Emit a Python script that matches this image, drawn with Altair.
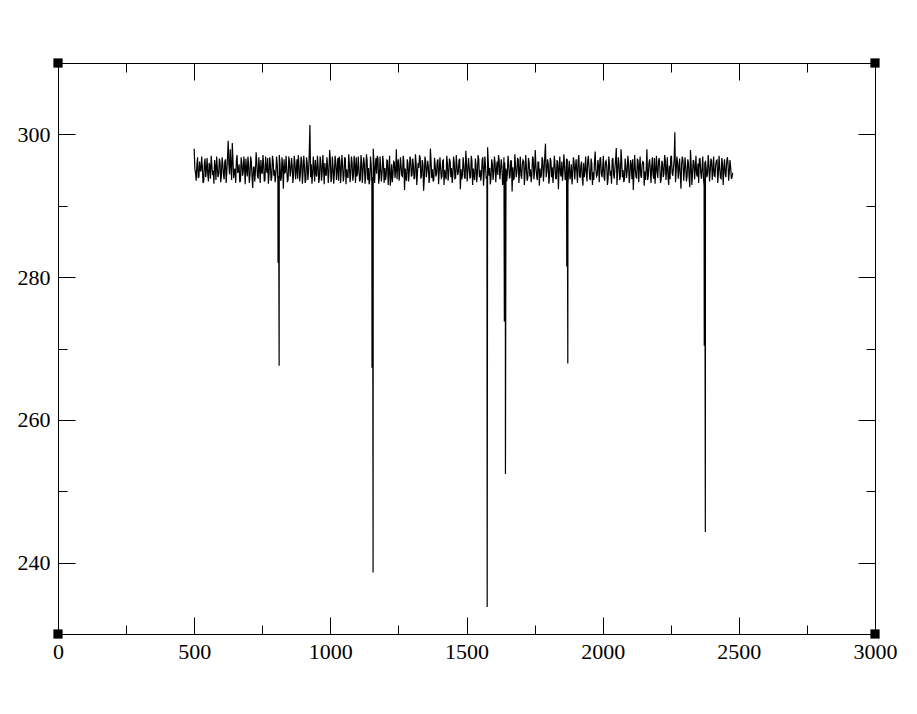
import altair as alt
import pandas as pd

# ---- data ----
# samples at x = 500, 505, 510, ...
x_start = 500
x_step = 5
band_y = [
    298.0, 294.6, 295.8, 293.9, 296.2, 294.8, 295.5, 293.4, 296.6, 295.1, 294.3, 296.0, 293.8, 295.7, 294.9, 296.4, 293.6, 295.3, 294.5, 296.1,
    294.2, 295.9, 293.7, 296.5, 294.8, 299.1, 294.4, 295.6, 298.8, 293.9, 295.2, 296.3, 294.6, 295.8, 293.5, 296.0, 294.7, 295.4, 296.6, 294.1,
    295.7, 294.3, 296.2, 292.5, 295.5, 294.8, 296.1, 293.8, 295.3, 296.4, 294.5, 295.9, 293.6, 295.2, 296.7, 294.4, 295.6, 294.0, 296.3, 295.0,
    294.6, 295.8, 294.2, 296.0, 293.9, 295.4, 296.5, 294.7, 295.1, 293.7, 296.2, 294.9, 295.6, 294.3, 296.1, 295.0, 293.8, 295.7, 294.5, 296.3,
    294.8, 295.5, 293.6, 296.0, 294.9, 301.3, 295.8, 294.4, 295.2, 296.4, 294.1, 295.7, 293.9, 296.2, 294.6, 295.3, 296.0, 294.2, 295.6, 294.8,
    296.5, 293.8, 295.4, 294.7, 296.1, 295.0, 293.5, 296.3, 294.9, 295.6, 294.2, 296.6, 295.1, 293.9, 295.8, 294.5, 296.0, 294.3, 295.5, 296.8,
    294.6, 295.2, 293.7, 296.2, 294.8, 295.9, 294.1, 296.4, 295.3, 293.6, 295.7, 294.0, 296.1, 295.4, 294.5, 296.6, 293.9, 295.1, 294.7, 296.0,
    295.3, 294.2, 296.3, 294.9, 292.8, 295.8, 294.4, 296.1, 295.0, 293.7, 296.5, 294.6, 295.5, 294.1, 296.2, 295.2, 293.5, 295.9, 294.8, 296.4,
    294.3, 295.6, 293.9, 296.0, 294.7, 295.3, 296.7, 294.2, 295.8, 293.8, 296.3, 294.9, 295.4, 294.0, 296.1, 295.1, 293.6, 295.7, 294.5, 296.5,
    294.8, 295.2, 294.1, 296.4, 295.0, 293.7, 295.9, 294.6, 296.2, 295.3, 294.3, 296.0, 293.9, 295.6, 294.7, 296.6, 295.1, 294.2, 295.8, 293.8,
    296.1, 294.9, 295.4, 294.0, 296.3, 295.2, 293.6, 295.7, 294.5, 296.5, 295.0, 294.4, 296.8, 294.8, 295.5, 294.1, 296.2, 295.3, 293.9, 295.8,
    294.6, 296.0, 295.1, 294.3, 296.4, 294.9, 295.6, 293.7, 296.1, 295.2, 294.5, 295.9, 294.0, 296.3, 295.4, 293.8, 295.7, 294.7, 296.5, 295.0,
    294.2, 295.8, 296.2, 294.6, 295.3, 293.9, 296.0, 295.1, 294.4, 296.6, 294.8, 295.5, 293.6, 296.1, 295.2, 294.3, 296.4, 295.0, 298.7, 294.7,
    295.9, 294.1, 296.3, 295.4, 294.6, 295.7, 293.8, 296.0, 295.2, 294.5, 296.2, 294.9, 295.6, 294.0, 296.5, 295.1, 293.7, 295.8, 294.4, 296.1,
    295.3, 294.8, 296.4, 294.2, 295.7, 293.9, 296.0, 295.0, 294.6, 296.3, 295.4, 293.6, 295.9, 294.7, 296.2, 295.1, 294.3, 295.6, 296.6, 294.5,
    295.2, 294.0, 296.1, 295.5, 293.8, 295.8, 294.9, 296.4, 294.4, 295.3, 298.1, 294.7, 295.9, 294.1, 296.2, 295.0, 293.7, 295.6, 294.8, 296.0,
    294.3, 295.7, 296.5, 294.6, 295.1, 293.9, 296.3, 295.4, 294.2, 295.8, 296.1, 294.8, 295.2, 293.6, 296.0, 294.9, 295.5, 294.4, 296.7, 295.0,
    294.7, 296.2, 295.3, 293.8, 295.9, 294.5, 296.4, 295.1, 294.0, 295.6, 296.8, 294.6, 295.4, 300.3, 294.9, 296.1, 295.2, 294.3, 295.8, 296.3,
    294.8, 295.5, 294.1, 296.0, 292.6, 295.7, 294.6, 296.2, 295.0, 294.4, 295.9, 296.5, 294.7, 295.3, 293.9, 296.1, 295.2, 294.5, 295.8, 294.9,
    296.3, 295.0, 294.2, 295.7, 296.4, 294.6, 295.3, 293.8, 296.0, 295.1, 294.5, 295.9, 296.2, 294.7, 295.4, 294.0,
]
# samples half-way between, at x = 502.5, 507.5, ...
band_y_mid = [
    295.2, 293.5, 296.8, 294.1, 295.0, 296.9, 293.2, 295.9, 294.0, 296.7, 293.4, 295.6, 297.0, 294.3, 293.1, 295.5, 296.9, 294.0, 296.6, 293.3,
    296.8, 294.4, 296.2, 293.2, 296.9, 295.7, 297.9, 293.6, 296.4, 295.0, 293.2, 297.1, 294.9, 293.3, 296.8, 294.2, 296.9, 293.0, 295.1, 296.9,
    293.2, 296.9, 294.0, 295.3, 293.4, 297.5, 294.1, 296.8, 293.2, 294.7, 297.1, 293.4, 296.9, 294.6, 293.1, 296.8, 293.5, 297.0, 294.2, 293.3,
    296.9, 293.4, 297.1, 293.5, 296.8, 292.4, 294.6, 297.0, 293.3, 296.9, 294.1, 296.7, 293.2, 297.0, 293.7, 296.5, 297.1, 293.4, 296.9, 293.1,
    297.0, 293.2, 296.8, 293.6, 297.2, 294.0, 293.1, 296.9, 293.4, 294.5, 297.0, 293.2, 296.9, 293.5, 297.1, 293.0, 294.4, 296.8, 293.2, 297.8,
    293.3, 296.9, 293.1, 297.0, 293.6, 296.7, 296.9, 293.2, 297.1, 293.4, 296.8, 293.0, 294.2, 297.2, 293.3, 296.9, 293.5, 297.0, 293.2, 294.1,
    296.9, 293.4, 297.1, 293.2, 296.8, 293.1, 297.2, 293.6, 293.0, 296.9, 293.3, 298.0, 293.2, 296.7, 297.0, 293.1, 296.9, 293.4, 297.0, 293.2,
    293.6, 296.4, 292.9, 297.0, 294.0, 293.3, 296.2, 293.9, 297.9, 296.1, 293.5, 296.8, 294.2, 297.0, 292.2, 293.9, 296.5, 293.4, 296.9, 294.1,
    296.6, 293.7, 297.2, 292.9, 296.0, 297.1, 293.8, 296.4, 292.1, 296.9, 294.0, 296.3, 293.2, 298.0, 293.9, 293.4, 296.7, 294.1, 296.2, 293.0,
    296.8, 293.9, 296.3, 292.9, 294.2, 297.0, 293.5, 296.6, 294.0, 293.2, 296.9, 293.8, 297.1, 294.3, 296.4, 292.3, 293.7, 296.8, 294.0, 297.7,
    293.4, 296.7, 293.9, 297.0, 292.9, 294.1, 296.6, 293.3, 297.1, 294.0, 293.5, 296.4, 292.8, 296.9, 293.8, 298.2, 294.2, 293.0, 296.5, 293.6,
    296.9, 293.3, 296.2, 297.1, 293.7, 296.5, 292.9, 296.8, 294.1, 293.4, 297.0, 293.9, 296.3, 292.0, 293.6, 297.2, 294.0, 296.6, 293.2, 296.9,
    293.8, 296.4, 292.9, 297.1, 293.5, 296.7, 294.1, 293.3, 296.9, 293.7, 297.8, 294.2, 296.1, 292.8, 293.9, 296.8, 293.4, 297.0, 294.0, 296.5,
    293.1, 296.7, 294.0, 293.2, 297.0, 293.8, 296.4, 292.3, 296.9, 294.1, 293.5, 297.2, 293.6, 296.6, 292.9, 296.3, 294.2, 293.0, 296.8, 293.7,
    296.5, 293.2, 297.1, 293.9, 296.2, 292.8, 294.0, 296.9, 293.4, 297.0, 293.8, 296.6, 292.9, 293.6, 297.6, 294.1, 296.4, 293.3, 296.8, 294.0,
    297.0, 293.5, 296.3, 292.9, 296.9, 294.2, 293.1, 296.7, 293.8, 296.5, 292.9, 296.8, 293.6, 297.9, 294.0, 293.3, 296.6, 293.9, 297.0, 293.2,
    296.4, 293.7, 292.2, 297.1, 294.0, 296.6, 293.3, 296.9, 293.9, 296.2, 292.8, 293.6, 297.9, 294.1, 296.5, 293.2, 296.8, 293.8, 293.1, 297.0,
    293.9, 296.7, 293.2, 296.3, 294.0, 297.1, 293.6, 296.8, 292.9, 293.7, 297.0, 294.2, 296.4, 293.3, 296.9, 293.8, 296.6, 292.4, 296.9, 293.5,
    296.8, 293.4, 296.5, 293.9, 297.8, 292.9, 296.4, 293.7, 297.0, 294.1, 293.2, 296.7, 293.8, 296.9, 292.8, 296.3, 294.0, 297.1, 293.4, 296.6,
    293.6, 296.9, 294.1, 296.3, 293.2, 297.0, 293.9, 296.7, 292.9, 296.5, 294.0, 296.8, 293.5, 296.4, 293.8, 294.6,
]
# the downward spikes (pairs: shallower then deeper)
spike_x = [808, 812, 1153, 1157, 1576, 1639, 1643, 1868, 1872, 2373, 2377]
spike_y = [282.0, 267.6, 267.3, 238.6, 233.8, 273.8, 252.4, 281.5, 267.9, 270.4, 244.3]

x_major = [0, 500, 1000, 1500, 2000, 2500, 3000]
x_minor = [250, 750, 1250, 1750, 2250, 2750]
y_major = [240, 260, 280, 300]
y_minor = [250, 270, 290]
x_domain = [0, 3000]
y_domain = [230, 310]
corner_x = [0, 3000, 0, 3000]
corner_y = [230, 230, 310, 310]

band_x = [x_start + x_step * i for i in range(len(band_y))]
band_x_mid = [x_start + x_step / 2 + x_step * i for i in range(len(band_y_mid))]
df = pd.DataFrame({
    "x": band_x + band_x_mid + spike_x,
    "y": band_y + band_y_mid + spike_y,
}).sort_values("x", kind="stable")
corners = pd.DataFrame({"x": corner_x, "y": corner_y})

FONT = "Liberation Serif"
xs = alt.Scale(domain=x_domain, nice=False, zero=False)
ys = alt.Scale(domain=y_domain, nice=False, zero=False)

MAJ = alt.ExprRef("-17")
MIN = alt.ExprRef("-9")


def ax(orient, values, size, labels=False):
    kw = dict(orient=orient, values=values, tickSize=size, title=None, domain=False,
              grid=False, labels=labels, tickColor="black", tickWidth=1)
    if labels:
        kw.update(labelFont=FONT, labelFontSize=22, labelColor="black", format="d",
                  labelFlush=False,
                  labelPadding=25 if orient == "left" else 24)
    return alt.Axis(**kw)


line = alt.Chart(df).mark_line(color="black", strokeWidth=1.2).encode(
    x=alt.X("x:Q", scale=xs, axis=ax("bottom", x_major, MAJ, True)),
    y=alt.Y("y:Q", scale=ys, axis=ax("left", y_major, MAJ, True)),
    order="x:Q",
)


def dummy(xo, xv, xsz, yo, yv, ysz):
    return alt.Chart(corners).mark_point(opacity=0).encode(
        x=alt.X("x:Q", scale=xs, axis=ax(xo, xv, xsz)),
        y=alt.Y("y:Q", scale=ys, axis=ax(yo, yv, ysz)),
    )


d1 = dummy("bottom", x_minor, MIN, "left", y_minor, MIN)
d2 = dummy("top", x_major, MAJ, "right", y_major, MAJ)
d3 = dummy("top", x_minor, MIN, "right", y_minor, MIN)

sq = alt.Chart(corners).mark_square(size=85, color="black", opacity=1).encode(
    x=alt.X("x:Q", scale=xs, axis=None),
    y=alt.Y("y:Q", scale=ys, axis=None),
)

chart = (
    alt.layer(line, d1, d2, d3, sq)
    .resolve_axis(x="independent", y="independent")
    .properties(
        width=817,
        height=571,
        autosize=alt.AutoSizeParams(type="none"),
        padding={"left": 50, "top": 55, "right": 34, "bottom": 60},
        background="white",
    )
    .configure_view(stroke="black", strokeWidth=1)
)

chart.save("out.html", embed_options={"renderer": "svg", "actions": False})
